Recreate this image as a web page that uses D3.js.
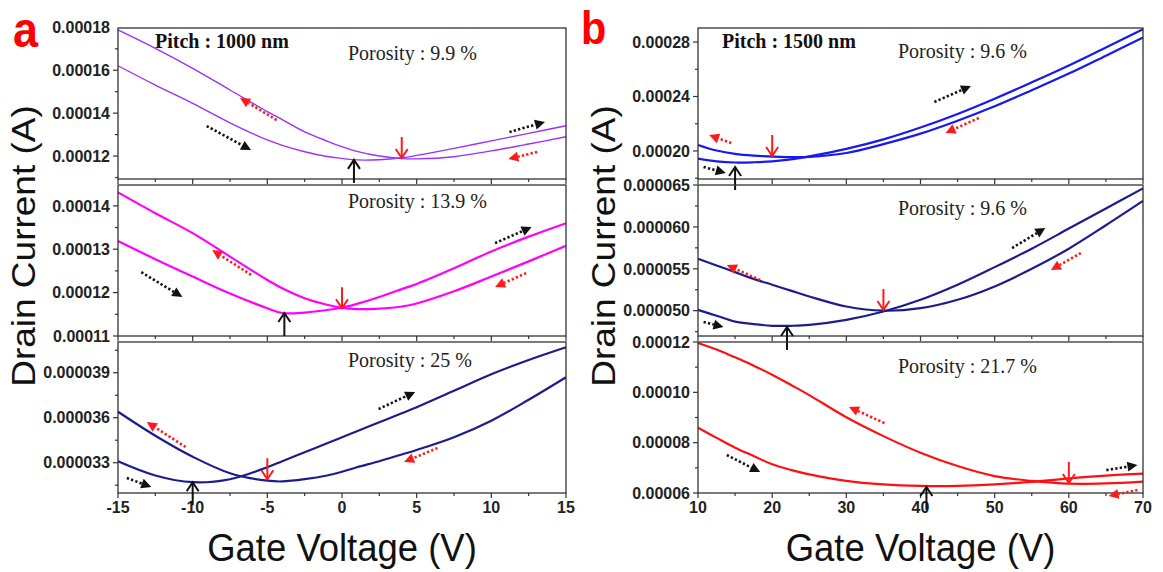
<!DOCTYPE html>
<html>
<head>
<meta charset="utf-8">
<script src="https://cdn.jsdelivr.net/npm/d3@7"></script>
<style>
  body { margin: 0; background: #fff; }
  svg { display: block; }
</style>
</head>
<body>
<svg id="chart" width="1163" height="572"></svg>
<script>
// gate voltage grids (V)
var vgA = [-15, -12.5, -10, -7.5, -5, -4, -2.5, -1, 0, 1, 2.5, 4, 5, 7.5, 10, 12.5, 15];
var vgB = [10, 12.5, 15, 17.5, 20, 22.5, 25, 30, 35, 40, 45, 50, 55, 60, 65, 70];

// drain current (A), forward / reverse sweeps
var a1Fwd = [0.0001621, 0.0001531, 0.0001446, 0.0001355, 0.0001275, 0.000125, 0.000122, 0.0001198, 0.0001189, 0.0001182, 0.0001183, 0.0001192, 0.0001203, 0.0001236, 0.0001271, 0.0001306, 0.0001341];
var a1Rev = [0.0001788, 0.0001702, 0.0001609, 0.0001508, 0.0001407, 0.000137, 0.0001313, 0.000127, 0.0001244, 0.0001222, 0.00012, 0.0001188, 0.0001187, 0.0001197, 0.0001224, 0.0001256, 0.000129];
var a2Fwd = [0.0001319, 0.0001277, 0.0001237, 0.0001198, 0.0001164, 0.0001153, 0.0001154, 0.000116, 0.0001165, 0.0001174, 0.000119, 0.0001208, 0.000122, 0.0001256, 0.0001295, 0.0001329, 0.000136];
var a2Rev = [0.0001431, 0.0001383, 0.0001337, 0.0001283, 0.0001229, 0.000121, 0.0001187, 0.0001172, 0.0001165, 0.0001162, 0.0001163, 0.0001168, 0.0001175, 0.0001203, 0.0001237, 0.0001272, 0.0001308];
var a3Fwd = [0.0000331, 0.00003215, 0.0000317, 0.0000319, 0.0000327, 0.0000331, 0.0000337, 0.0000343, 0.0000347, 0.0000351, 0.0000357, 0.0000363, 0.0000367, 0.0000378, 0.0000389, 0.00003985, 0.0000407];
var a3Rev = [0.0000364, 0.0000348, 0.0000334, 0.0000323, 0.0000318, 0.00003175, 0.0000319, 0.00003215, 0.0000324, 0.0000327, 0.0000331, 0.00003355, 0.00003385, 0.0000347, 0.0000358, 0.0000372, 0.0000387];
var b1Fwd = [0.0001944, 0.0001924, 0.0001915, 0.0001917, 0.0001924, 0.0001938, 0.000196, 0.0002015, 0.0002085, 0.0002172, 0.0002272, 0.0002384, 0.0002504, 0.0002628, 0.000276, 0.0002893];
var b1Rev = [0.0002044, 0.0002003, 0.0001978, 0.0001965, 0.0001959, 0.0001955, 0.0001956, 0.0001985, 0.000205, 0.0002127, 0.0002222, 0.0002328, 0.0002446, 0.0002568, 0.00027, 0.0002834];
var b2Fwd = [0.0000501, 0.0000494, 0.0000487, 0.0000484, 0.0000482, 0.0000482, 0.0000483, 0.0000489, 0.0000499, 0.0000513, 0.0000531, 0.0000552, 0.0000574, 0.0000598, 0.0000622, 0.0000646];
var b2Rev = [0.0000562, 0.0000554, 0.0000546, 0.0000538, 0.0000531, 0.0000524, 0.0000517, 0.0000505, 0.00005, 0.0000503, 0.0000513, 0.0000529, 0.000055, 0.0000574, 0.0000602, 0.0000631];
var b3Fwd = [0.0000859, 0.0000819, 0.000078, 0.0000747, 0.0000714, 0.0000692, 0.0000674, 0.0000648, 0.0000634, 0.0000628, 0.0000628, 0.0000634, 0.0000644, 0.0000658, 0.0000669, 0.0000677];
var b3Rev = [0.0001196, 0.000117, 0.0001139, 0.0001106, 0.000107, 0.000103, 0.0000989, 0.0000901, 0.0000826, 0.000076, 0.0000707, 0.0000667, 0.0000648, 0.0000637, 0.0000638, 0.0000645];

// tick values
var xTicksA = [-15, -10, -5, 0, 5, 10, 15];
var xTicksB = [10, 20, 30, 40, 50, 60, 70];
var a1Ticks = [0.00012, 0.00014, 0.00016, 0.00018];
var a2Ticks = [0.00011, 0.00012, 0.00013, 0.00014];
var a3Ticks = [0.000033, 0.000036, 0.000039];
var b1Ticks = [0.0002, 0.00024, 0.00028];
var b2Ticks = [0.00005, 0.000055, 0.00006, 0.000065];
var b3Ticks = [0.00006, 0.00008, 0.0001, 0.00012];

// sweep-direction arrows [x1, I1, x2, I2, colour] and min markers [V, I, dir]
var a1Dots = [[-4.38, 0.0001368, -6.83, 0.0001471, "r"], [-9.06, 0.000134, -6.09, 0.0001228, "k"], [11.21, 0.0001312, 13.59, 0.0001359, "k"], [13.07, 0.0001219, 11.14, 0.0001186, "r"]];
var a2Dots = [[-6.09, 0.0001241, -8.69, 0.0001298, "r"], [-13.44, 0.0001247, -10.69, 0.000119, "k"], [10.25, 0.0001314, 12.7, 0.0001351, "k"], [12.33, 0.0001245, 10.25, 0.0001213, "r"]];
var a3Dots = [[-10.47, 0.00003405, -13.07, 0.00003571, "r"], [-14.41, 0.00003198, -12.77, 0.00003138, "k"], [2.45, 0.00003658, 4.9, 0.00003772, "k"], [6.39, 0.00003398, 4.16, 0.00003305, "r"]];
var b1Dots = [[14.49, 0.0002058, 11.5, 0.0002117, "r"], [10.75, 0.0001882, 13.74, 0.0001838, "k"], [41.87, 0.000236, 46.81, 0.0002477, "k"], [47.86, 0.0002242, 43.37, 0.0002132, "r"]];
var b2Dots = [[18.38, 0.00005366, 13.89, 0.00005545, "r"], [10.75, 0.00004865, 13.44, 0.00004805, "k"], [52.35, 0.00005748, 56.83, 0.00005987, "k"], [61.62, 0.00005688, 57.58, 0.00005486, "r"]];
var b3Dots = [[35.14, 0.0000878, 30.35, 0.0000942, "r"], [13.89, 0.0000751, 18.38, 0.0000683, "k"], [65.06, 0.0000691, 69.25, 0.0000711, "k"], [69.25, 0.0000612, 65.36, 0.0000588, "r"]];
var a1Mins = [[0.8, 0.0001182, "up"], [4, 0.0001191, "down"]];
var a2Mins = [[-3.86, 0.0001153, "up"], [0, 0.0001164, "down"]];
var a3Mins = [[-10, 0.0000317, "up"], [-5, 0.0000319, "down"]];
var b1Mins = [[15, 0.0001882, "up"], [20, 0.0001963, "down"]];
var b2Mins = [[22, 0.00004805, "up"], [35, 0.00005008, "down"]];
var b3Mins = [[40.8, 0.0000624, "up"], [60, 0.000064, "down"]];

var porosity = ["Porosity : 9.9 %", "Porosity : 13.9 %", "Porosity : 25 %", "Porosity : 9.6 %", "Porosity : 9.6 %", "Porosity : 21.7 %"];
var pitches = ["Pitch : 1000 nm", "Pitch : 1500 nm"];

var svg = d3.select("#chart");
var cols = [{x0: 118, x1: 566, vg: vgA, ticks: xTicksA, dom: [-15, 15], minor: 2.5},
            {x0: 698, x1: 1143, vg: vgB, ticks: xTicksB, dom: [10, 70], minor: 5}];
var rows = [{y0: 28, y1: 179}, {y0: 185, y1: 336}, {y0: 342, y1: 493}];

var panels = [
  {c: 0, r: 0, fwd: a1Fwd, rev: a1Rev, yd: [0.0001093, 0.0001797], yt: a1Ticks, dec: 5, col: "#9b30ff", w: 1.4, dots: a1Dots, mins: a1Mins, tx: 230, ty: 32},
  {c: 0, r: 1, fwd: a2Fwd, rev: a2Rev, yd: [0.00011, 0.0001448], yt: a2Ticks, dec: 5, col: "#ff00ff", w: 2.2, dots: a2Dots, mins: a2Mins, tx: 230, ty: 23},
  {c: 0, r: 2, fwd: a3Fwd, rev: a3Rev, yd: [0.00003098, 0.00004105], yt: a3Ticks, dec: 6, col: "#1c1c8e", w: 2.2, dots: a3Dots, mins: a3Mins, tx: 230, ty: 25},
  {c: 1, r: 0, fwd: b1Fwd, rev: b1Rev, yd: [0.0001794, 0.0002903], yt: b1Ticks, dec: 5, col: "#1818f0", w: 2.2, dots: b1Dots, mins: b1Mins, tx: 200, ty: 30},
  {c: 1, r: 1, fwd: b2Fwd, rev: b2Rev, yd: [0.00004698, 0.000065], yt: b2Ticks, dec: 6, col: "#1c1c8e", w: 2.2, dots: b2Dots, mins: b2Mins, tx: 200, ty: 30},
  {c: 1, r: 2, fwd: b3Fwd, rev: b3Rev, yd: [0.00006, 0.00012], yt: b3Ticks, dec: 5, col: "#ff1010", w: 2.2, dots: b3Dots, mins: b3Mins, tx: 200, ty: 31}
];

var sans = "'Liberation Sans', Arial, sans-serif";
var serif = "'Liberation Serif', 'Times New Roman', serif";
var arrowCol = {k: "#111", r: "#ff1a1a"};

function dotArrow(g, x1, y1, x2, y2, color) {
  var dx = x2 - x1, dy = y2 - y1, len = Math.hypot(dx, dy);
  var ux = dx / len, uy = dy / len, hl = 10, hw = 5;
  var bx = x2 - ux * hl, by = y2 - uy * hl;
  g.append("line")
    .attr("x1", x1).attr("y1", y1).attr("x2", bx).attr("y2", by)
    .attr("stroke", color).attr("stroke-width", 2.6)
    .attr("stroke-dasharray", "2.3,2.2");
  g.append("path")
    .attr("d", "M" + x2 + "," + y2 + "L" + (bx - uy * hw) + "," + (by + ux * hw) + "L" + (bx + uy * hw) + "," + (by - ux * hw) + "Z")
    .attr("fill", color);
}

function minArrow(g, x, yTip, dir) {
  var s = dir == "up" ? 1 : -1;
  var color = dir == "up" ? "#111" : "#ff1a1a";
  var len = dir == "up" ? 23 : 21;
  g.append("line")
    .attr("x1", x).attr("y1", yTip).attr("x2", x).attr("y2", yTip + s * len)
    .attr("stroke", color).attr("stroke-width", 2);
  g.append("path")
    .attr("d", "M" + (x - 6) + "," + (yTip + s * 9) + "L" + x + "," + yTip + "L" + (x + 6) + "," + (yTip + s * 9))
    .attr("fill", "none").attr("stroke", color).attr("stroke-width", 2);
}

panels.forEach(function(p, pi) {
  var C = cols[p.c], R = rows[p.r];
  var x = d3.scaleLinear().domain(C.dom).range([C.x0, C.x1]);
  var y = d3.scaleLinear().domain(p.yd).range([R.y1, R.y0]);
  var g = svg.append("g");

  // x ticks (bottom, outward) with minor ticks
  var xMinor = d3.range(C.dom[0], C.dom[1] + 0.001, C.minor);
  g.selectAll(".xt").data(xMinor).enter().append("line")
    .attr("x1", function(d) { return x(d); }).attr("x2", function(d) { return x(d); })
    .attr("y1", R.y1).attr("y2", function(d) { return R.y1 + (C.ticks.indexOf(d) >= 0 ? 5 : 3); })
    .attr("stroke", "#333").attr("stroke-width", 1.2);

  // y ticks (left, outward) with minor ticks
  var step = p.yt[1] - p.yt[0];
  var yMinor = [];
  for (var v = p.yt[0] - step; v <= p.yd[1] + 1e-12; v += step / 2) {
    if (v >= p.yd[0] - 1e-12) yMinor.push(v);
  }
  g.selectAll(".ym").data(yMinor).enter().append("line")
    .attr("x1", C.x0).attr("x2", function(d, i) {
      var major = p.yt.some(function(t) { return Math.abs(t - d) < step * 0.01; });
      return C.x0 - (major ? 5 : 3);
    })
    .attr("y1", function(d) { return y(d); }).attr("y2", function(d) { return y(d); })
    .attr("stroke", "#333").attr("stroke-width", 1.2);

  g.selectAll(".yl").data(p.yt).enter().append("text")
    .attr("x", C.x0 - 8).attr("y", function(d) { return y(d); })
    .attr("dy", "0.36em").attr("text-anchor", "end")
    .attr("font-family", sans).attr("font-weight", "bold").attr("font-size", 16).attr("fill", "#222")
    .text(function(d) { return d3.format("." + p.dec + "f")(d); });

  if (p.r == 2) {
    g.selectAll(".xl").data(C.ticks).enter().append("text")
      .attr("x", function(d) { return x(d); }).attr("y", R.y1 + 20)
      .attr("text-anchor", "middle")
      .attr("font-family", sans).attr("font-weight", "bold").attr("font-size", 16).attr("fill", "#222")
      .text(function(d) { return d; });
  }

  // the two sweeps
  var line = d3.line()
    .x(function(d) { return x(d[0]); })
    .y(function(d) { return y(d[1]); })
    .curve(d3.curveCatmullRom.alpha(0.5));
  [p.fwd, p.rev].forEach(function(s) {
    g.append("path")
      .datum(C.vg.map(function(v, i) { return [v, s[i]]; }))
      .attr("d", line)
      .attr("fill", "none").attr("stroke", p.col).attr("stroke-width", p.w);
  });

  // frame
  g.append("rect")
    .attr("x", C.x0).attr("y", R.y0).attr("width", C.x1 - C.x0).attr("height", R.y1 - R.y0)
    .attr("fill", "none").attr("stroke", "#333").attr("stroke-width", 1.3);

  p.dots.forEach(function(a) {
    dotArrow(g, x(a[0]), y(a[1]), x(a[2]), y(a[3]), arrowCol[a[4]]);
  });
  p.mins.forEach(function(m) {
    minArrow(g, x(m[0]), y(m[1]), m[2]);
  });

  g.append("text")
    .attr("x", C.x0 + p.tx).attr("y", R.y0 + p.ty)
    .attr("font-family", serif).attr("font-size", 20).attr("fill", "#222")
    .text(porosity[pi]);

  if (p.r == 0) {
    g.append("text")
      .attr("x", C.x0 + (p.c == 0 ? 37 : 24)).attr("y", R.y0 + 20)
      .attr("font-family", serif).attr("font-weight", "bold").attr("font-size", 20).attr("fill", "#111")
      .text(pitches[p.c]);
  }
});

// axis titles and panel letters
cols.forEach(function(C, i) {
  var cx = (C.x0 + C.x1) / 2;
  svg.append("text")
    .attr("transform", "translate(" + cx + ",561) scale(0.96,1)")
    .attr("text-anchor", "middle")
    .attr("font-family", sans).attr("font-size", 38).attr("fill", "#111")
    .text("Gate Voltage (V)");
  svg.append("text")
    .attr("transform", "translate(" + (C.x0 - 83) + ",246) rotate(-90) scale(1,0.9)")
    .attr("text-anchor", "middle")
    .attr("font-family", sans).attr("font-size", 37).attr("fill", "#111")
    .text("Drain Current (A)");
  svg.append("text")
    .attr("transform", "translate(" + (i == 0 ? 13 : 581) + "," + (i == 0 ? 47 : 44) + ") scale(0.9,1)")
    .attr("font-family", sans).attr("font-weight", "bold").attr("font-size", i == 0 ? 50 : 46).attr("fill", "#ff0000")
    .text(i == 0 ? "a" : "b");
});
</script>
</body>
</html>
